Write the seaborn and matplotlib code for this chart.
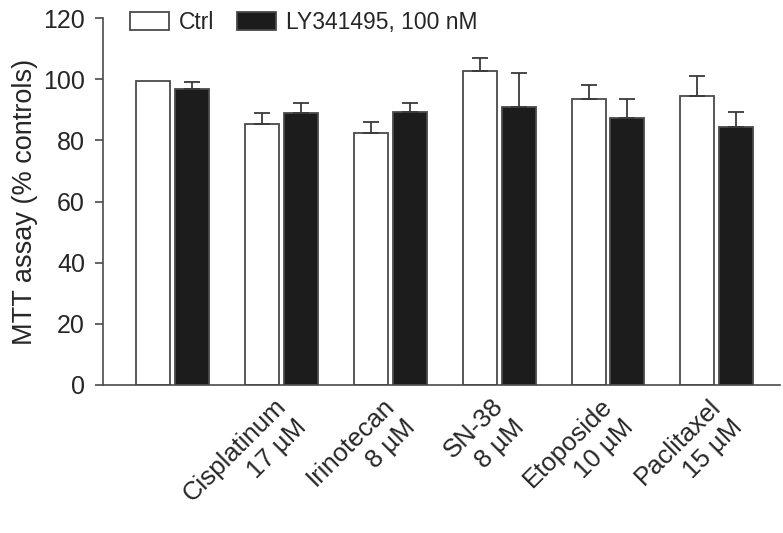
import numpy as np
import pandas as pd
import matplotlib
matplotlib.use("Agg")
import matplotlib.pyplot as plt
import matplotlib.transforms as mtransforms
import seaborn as sns

# Values
drugs = ["", "Cisplatinum\n17 \u00b5M", "Irinotecan\n8 \u00b5M", "SN-38\n8 \u00b5M",
         "Etoposide\n10 \u00b5M", "Paclitaxel\n15 \u00b5M"]
ctrl_mean = [99.5, 85.3, 82.3, 102.6, 93.6, 94.5]
ctrl_err = [0.0, 3.7, 3.7, 4.2, 4.4, 6.6]
ly_mean = [96.7, 89.0, 89.2, 90.8, 87.2, 84.5]
ly_err = [2.5, 3.4, 3.2, 11.1, 6.4, 4.8]
groups = ["Ctrl", "LY341495, 100 nM"]

df = pd.DataFrame({
    "drug": drugs * 2,
    "value": ctrl_mean + ly_mean,
    "group": [groups[0]] * len(drugs) + [groups[1]] * len(drugs),
})

sns.set_style("ticks")
plt.rcParams["font.family"] = ["Liberation Sans", "DejaVu Sans"]

fig = plt.figure(figsize=(7.83, 5.33), dpi=100)
ax = fig.add_axes([0.1316, 0.2777, 0.8645, 0.6883])

sns.barplot(data=df, x="drug", y="value", hue="group", order=drugs,
            hue_order=groups, palette={groups[0]: "white", groups[1]: "#1c1c1c"},
            edgecolor="#4a4a4a", linewidth=1.3, width=0.716, gap=0.128,
            errorbar=None, ax=ax)

# upward-only error bars on top of each bar
for cont, errs in zip(ax.containers, [ctrl_err, ly_err]):
    xs = np.array([b.get_x() + b.get_width() / 2 for b in cont])
    ys = np.array([b.get_height() for b in cont])
    errs = np.array(errs)
    m = errs > 0
    ax.errorbar(xs[m], ys[m], yerr=[np.zeros(m.sum()), errs[m]], fmt="none",
                ecolor="#3a3a3a", elinewidth=1.3, capsize=6, capthick=1.3, zorder=1)

ax.set_ylim(0, 120)
ax.set_yticks(np.arange(0, 121, 20))
ax.set_xlim(-0.64, 5.58)
ax.set_xlabel("")
ax.set_ylabel("MTT assay (% controls)", fontsize=19.5, labelpad=4)
sns.despine(ax=ax)
for s in ["left", "bottom"]:
    ax.spines[s].set_color("#4a4a4a")
    ax.spines[s].set_linewidth(1.2)
ax.tick_params(axis="y", length=6, width=1.2, color="#4a4a4a", labelsize=18, pad=7)
ax.tick_params(axis="x", length=0, pad=8, labelsize=18.5)
shift = mtransforms.ScaledTranslation(-8 / 100, 2 / 100, fig.dpi_scale_trans)
for lab in ax.get_xticklabels():
    lab.set_rotation(45)
    lab.set_ha("right")
    lab.set_va("top")
    lab.set_rotation_mode("anchor")
    lab.set_multialignment("right")
    lab.set_linespacing(1.3)
    lab.set_transform(lab.get_transform() + shift)

leg = ax.legend(loc="upper left", bbox_to_anchor=(0.148, 1.005), bbox_transform=fig.transFigure,
                ncol=2, frameon=False, handlelength=1.7, handleheight=0.85,
                handletextpad=0.45, columnspacing=1.0, fontsize=16.5, borderpad=0.1)

plt.savefig("out.png", dpi=100)
